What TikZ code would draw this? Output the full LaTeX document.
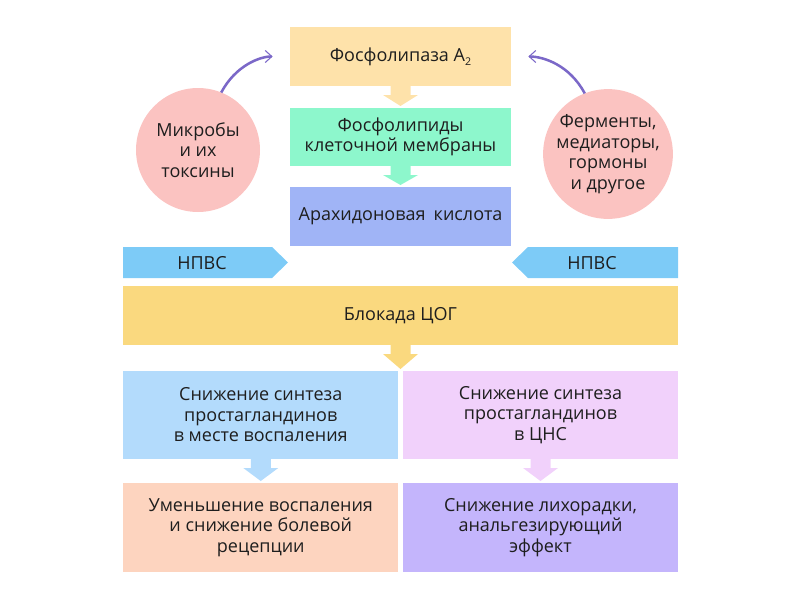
\documentclass[tikz,border=0pt]{standalone}
\usepackage{fontspec}
\setmainfont{Open Sans}
\usetikzlibrary{calc,arrows.meta}
\definecolor{cfla}{HTML}{FEE2AA}
\definecolor{cgrn}{HTML}{8DF7CC}
\definecolor{cara}{HTML}{A0B4F6}
\definecolor{cnp}{HTML}{7DCBF7}
\definecolor{cblk}{HTML}{FAD97F}
\definecolor{cml}{HTML}{B3DBFC}
\definecolor{cmr}{HTML}{F1D1FB}
\definecolor{cbl}{HTML}{FDD4BF}
\definecolor{cbr}{HTML}{C4B5FC}
\definecolor{ccirc}{HTML}{FBC3C1}
\definecolor{cpur}{HTML}{7B68C8}
\definecolor{ctxt}{HTML}{1E1E1E}
\newcommand\blkarrow[3]{%
  \coordinate (tmptip) at (#2.south |- #3.north);
  \fill[#1] ($(#2.south)+(-10,0)$) -- ($(#2.south)+(-10,9)$) -- ($(#2.south)+(-17.5,9)$)
    -- ($(tmptip)+(0,-2)$) -- ($(#2.south)+(17.5,9)$) -- ($(#2.south)+(10,9)$)
    -- ($(#2.south)+(10,0)$) -- cycle;}
\begin{document}
\begin{tikzpicture}[x=0.75pt,y=-0.75pt,
  box/.style={rectangle,inner sep=0pt,outer sep=0pt,text=ctxt,align=center,
    font=\fontsize{13.5}{15.4}\selectfont},
  circ/.style={circle,fill=ccirc,inner sep=0pt,outer sep=0pt,text=ctxt,align=center,
    font=\fontsize{13.5}{15.4}\selectfont},
  npvs/.style={inner sep=0pt,text=ctxt,font=\fontsize{13.5}{15.4}\selectfont},
  curv/.style={cpur,line width=1.9pt,
    -{Straight Barb[length=5pt,width=9pt,line width=0.8pt]}}]
\useasboundingbox (0,0) rectangle (800,600);
% boxes
\node[box,fill=cfla,minimum width=165.75pt,minimum height=44.25pt] (fla) at (400.5,56.5) {Фосфолипаза А\raisebox{-0.45ex}{\fontsize{8}{8}\selectfont 2}};
\node[box,fill=cgrn,minimum width=165.75pt,minimum height=43.5pt] (grn) at (400.5,137) {Фосфолипиды\\клеточной мембраны};
\node[box,fill=cara,minimum width=165.75pt,minimum height=44.25pt] (ara) at (400.5,216.5) {Арахидоновая\hspace{0.45em}кислота};
\node[box,fill=cblk,minimum width=416.25pt,minimum height=44.25pt] (blk) at (400.5,315.5) {Блокада ЦОГ};
\node[box,fill=cml,minimum width=206.6pt,minimum height=66pt] (ml) at (260.75,415) {Снижение синтеза\\простагландинов\\в месте воспаления};
\node[box,fill=cmr,minimum width=206.25pt,minimum height=66pt] (mr) at (540.5,415) {Снижение синтеза\\простагландинов\\в ЦНС};
\node[box,fill=cbl,minimum width=206.6pt,minimum height=66.75pt] (bl) at (260.75,527.5) {Уменьшение воспаления\\и снижение болевой\\рецепции};
\node[box,fill=cbr,minimum width=206.25pt,minimum height=66.75pt] (br) at (540.5,527.5) {Снижение лихорадки,\\анальгезирующий\\эффект};
% NPVS shapes
\fill[cnp] (123,247) -- (272,247) -- (288,262.5) -- (272,278) -- (123,278) -- cycle;
\fill[cnp] (678,247) -- (528,247) -- (512,262.5) -- (528,278) -- (678,278) -- cycle;
\node[npvs] (npl) at (202,263) {НПВС};
\node[npvs] (npr) at (592,263) {НПВС};
% circles
\node[circ,minimum size=93pt] (cl) at (198,150) {Микробы\\и их\\токсины};
\node[circ,minimum size=92.25pt] (cr) at (608,154) {Ферменты,\\медиаторы,\\гормоны\\и другое};
% block arrows
\blkarrow{cfla}{fla}{grn}
\blkarrow{cgrn}{grn}{ara}
\blkarrow{cblk}{blk}{ml}
\blkarrow{cml}{ml}{bl}
\blkarrow{cmr}{mr}{br}
% curved arrows
\draw[curv,shorten >=13pt] (cl.68) to[out=62,in=180] (fla.west);
\draw[curv,shorten >=13pt] (cr.111) to[out=118,in=0] (fla.east);
\end{tikzpicture}
\end{document}
